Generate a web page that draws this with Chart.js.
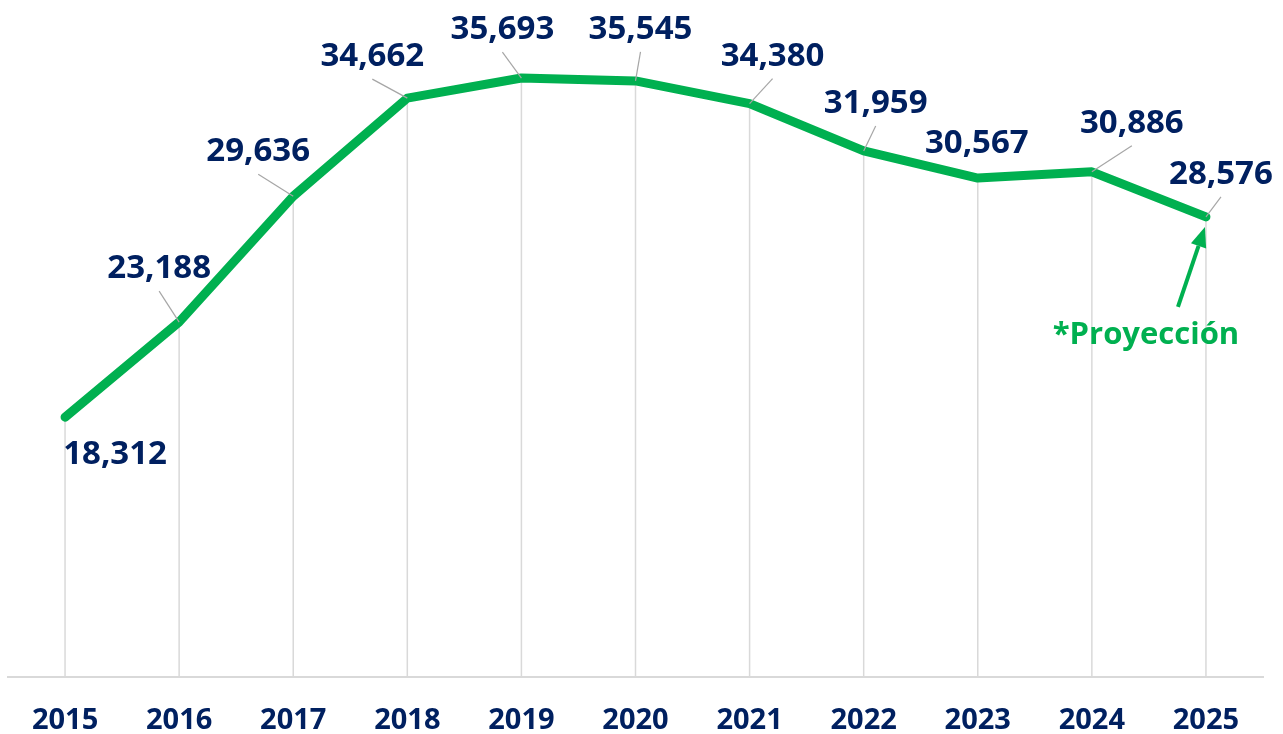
<!DOCTYPE html>
<html>
<head>
<meta charset="utf-8">
<script src="https://cdn.jsdelivr.net/npm/chart.js@4/dist/chart.umd.min.js"></script>
<style>
  html, body { margin: 0; padding: 0; background: #fff; }
  #wrap { width: 1283px; height: 734px; }
</style>
</head>
<body>
<div id="wrap"><canvas id="proyChart"></canvas></div>
<script>
    // datos del gráfico
    const years = ['2015', '2016', '2017', '2018', '2019', '2020', '2021', '2022', '2023', '2024', '2025'];
    const values = [18312, 23188, 29636, 34662, 35693, 35545, 34380, 31959, 30567, 30886, 28576];
    const noteText = '*Proyección';

    const NAVY = '#002060';
    const GREEN = '#00B050';
    const FONT = '"Open Sans"';

    // posición de cada etiqueta respecto a su punto: [dx, dy de la línea base, con guía]
    const labelPlacement = [
        [50, 47, false], [-20, -44, true], [-35, -35, true], [-35, -32, true],
        [-19, -39, true], [5, -42, true], [23, -38, true], [12, -38, true],
        [-1, -25, false], [40, -39, true], [15, -33, true]
    ];

    // líneas verticales desde cada punto hasta el eje
    const dropLines = {
        id: 'dropLines',
        beforeDatasetsDraw(chart) {
            const ctx = chart.ctx;
            const pts = chart.getDatasetMeta(0).data;
            const bottom = chart.chartArea.bottom;
            ctx.save();
            ctx.strokeStyle = '#D9D9D9';
            ctx.lineWidth = 1.5;
            pts.forEach(p => {
                ctx.beginPath();
                ctx.moveTo(p.x, p.y);
                ctx.lineTo(p.x, bottom);
                ctx.stroke();
            });
            ctx.restore();
        }
    };

    // etiquetas de datos con líneas guía y la nota de proyección
    const valueLabels = {
        id: 'valueLabels',
        afterDatasetsDraw(chart) {
            const ctx = chart.ctx;
            const pts = chart.getDatasetMeta(0).data;
            ctx.save();
            ctx.font = 'bold 33px ' + FONT;
            ctx.textAlign = 'center';
            ctx.textBaseline = 'alphabetic';
            pts.forEach((p, i) => {
                const [dx, dy, guide] = labelPlacement[i];
                const x = p.x + dx, y = p.y + dy;
                if (guide) {
                    ctx.strokeStyle = '#A6A6A6';
                    ctx.lineWidth = 1.2;
                    ctx.beginPath();
                    ctx.moveTo(p.x, p.y);
                    ctx.lineTo(x, y + 13);
                    ctx.stroke();
                }
                ctx.fillStyle = NAVY;
                ctx.fillText(values[i].toLocaleString('en-US'), x, y);
            });

            // flecha hacia el último punto
            const last = pts[pts.length - 1];
            const tipX = last.x - 1, tipY = last.y + 10;
            const fromX = last.x - 28, fromY = last.y + 90;
            const ang = Math.atan2(tipY - fromY, tipX - fromX);
            const headLen = 20, headW = 8;
            const baseX = tipX - headLen * Math.cos(ang), baseY = tipY - headLen * Math.sin(ang);
            ctx.strokeStyle = GREEN;
            ctx.fillStyle = GREEN;
            ctx.lineWidth = 4;
            ctx.beginPath();
            ctx.moveTo(fromX, fromY);
            ctx.lineTo(baseX, baseY);
            ctx.stroke();
            ctx.beginPath();
            ctx.moveTo(tipX, tipY);
            ctx.lineTo(baseX + headW * Math.sin(ang), baseY - headW * Math.cos(ang));
            ctx.lineTo(baseX - headW * Math.sin(ang), baseY + headW * Math.cos(ang));
            ctx.closePath();
            ctx.fill();

            ctx.font = 'bold 31px ' + FONT;
            ctx.fillText(noteText, last.x - 60, last.y + 127);
            ctx.restore();
        }
    };

    new Chart(document.getElementById('proyChart').getContext('2d'), {
        type: 'line',
        data: {
            labels: years,
            datasets: [{
                data: values,
                borderColor: GREEN,
                borderWidth: 9,
                borderCapStyle: 'round',
                borderJoinStyle: 'round',
                pointRadius: 0,
                tension: 0,
                fill: false
            }]
        },
        options: {
            responsive: true,
            maintainAspectRatio: false,
            animation: false,
            layout: { padding: { left: 8, right: 20, top: 33, bottom: 0 } },
            plugins: {
                legend: { display: false },
                tooltip: { enabled: false }
            },
            scales: {
                x: {
                    offset: true,
                    grid: { display: false },
                    border: { display: true, color: '#D9D9D9', width: 2 },
                    afterFit(axis) { axis.height = 57; },
                    ticks: {
                        color: NAVY,
                        padding: 18,
                        font: { family: 'Open Sans', size: 29, weight: 'bold' }
                    }
                },
                y: {
                    display: false,
                    min: 5000,
                    max: 38000
                }
            }
        },
        plugins: [dropLines, valueLabels]
    });
</script>
</body>
</html>
